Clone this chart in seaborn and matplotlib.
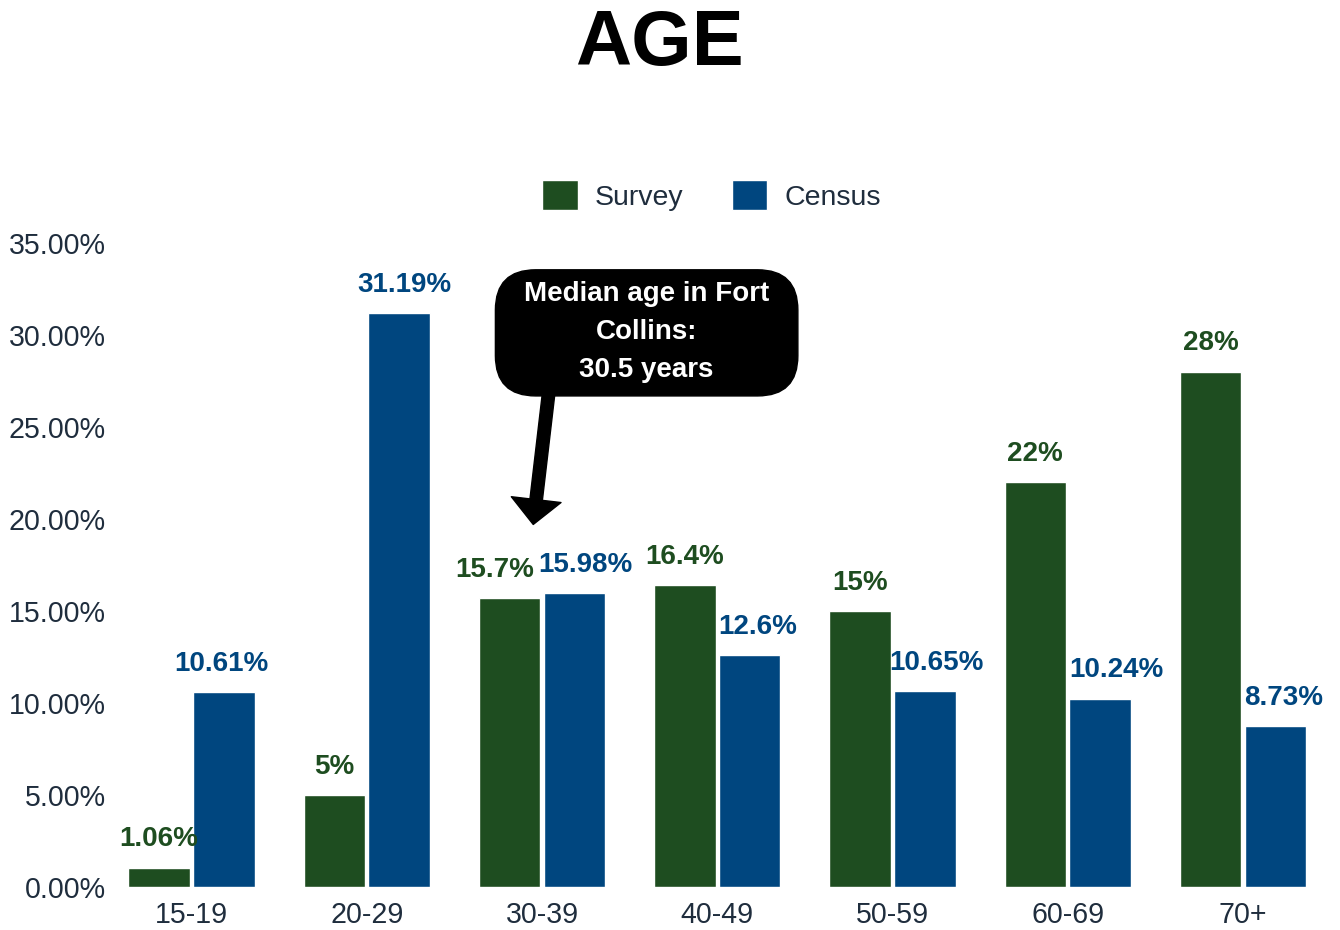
import matplotlib
matplotlib.use("Agg")
import matplotlib.pyplot as plt
import seaborn as sns
import pandas as pd
from matplotlib.ticker import FuncFormatter
from matplotlib.patches import Patch, FancyBboxPatch

categories = ["15-19", "20-29", "30-39", "40-49", "50-59", "60-69", "70+"]
survey = [1.06, 5, 15.7, 16.4, 15, 22, 28]
census = [10.61, 31.19, 15.98, 12.6, 10.65, 10.24, 8.73]
survey_labels = ["1.06%", "5%", "15.7%", "16.4%", "15%", "22%", "28%"]
census_labels = ["10.61%", "31.19%", "15.98%", "12.6%", "10.65%", "10.24%", "8.73%"]
series = ["Survey", "Census"]

GREEN = "#1e4d20"
BLUE = "#00467f"
TXT = "#1f2d3d"

sns.set_theme(style="white")
plt.rcParams['font.family'] = ['Liberation Sans', 'DejaVu Sans']

df = pd.DataFrame({
    "Age": categories * 2,
    "Value": survey + census,
    "Series": ["Survey"] * len(categories) + ["Census"] * len(categories),
})

fig = plt.figure(figsize=(13.4, 9.3), dpi=100)
ax = fig.add_axes([0.088, 0.046, 0.905, 0.693])

sns.barplot(data=df, x="Age", y="Value", hue="Series", hue_order=series,
            palette=[GREEN, BLUE], width=0.74, gap=0.05, ax=ax,
            legend=False, saturation=1)

ax.set_ylim(0, 35)
ax.set_xlim(-0.42, 6.5)
ax.set_yticks([0, 5, 10, 15, 20, 25, 30, 35])
ax.yaxis.set_major_formatter(FuncFormatter(lambda v, p: f"{v:.2f}%"))
ax.tick_params(axis='both', labelsize=20.6, colors=TXT, length=0)
ax.tick_params(axis='x', pad=10)
ax.tick_params(axis='y', pad=8.5)
ax.set_xlabel("")
ax.set_ylabel("")
for s in ax.spines.values():
    s.set_visible(False)

# bar labels
conts = ax.containers
t1 = ax.bar_label(conts[0], labels=survey_labels, padding=11, fontsize=20,
                  fontweight='bold', color=GREEN)
t2 = ax.bar_label(conts[1], labels=census_labels, padding=11, fontsize=20,
                  fontweight='bold', color=BLUE)
# nudge labels horizontally as in the reference
t1[2].xyann = (-11, 11)
for t, dx in zip(t2, [-2, 3.5, 8, 6, 8, 11.5, 6]):
    t.xyann = (dx, 11)

# title
fig.text(0.492, 0.952, "AGE", ha='center', va='center', fontsize=56,
         fontweight='bold', color='black')

# legend
handles = [Patch(facecolor=GREEN, label="Survey"), Patch(facecolor=BLUE, label="Census")]
fig.legend(handles=handles, loc='center', bbox_to_anchor=(0.531, 0.79), ncol=2,
           frameon=False, fontsize=20.5, handlelength=1.25, handleheight=1.25,
           handletextpad=0.6, columnspacing=1.7, labelcolor=TXT)

# annotation
box = FancyBboxPatch((1.734, 26.68), 3.46 - 1.734, 33.53 - 26.68,
                     boxstyle="round,pad=0,rounding_size=0.23",
                     mutation_aspect=175 / 18.4,
                     facecolor='black', edgecolor='black', transform=ax.transData,
                     clip_on=False, zorder=4)
ax.add_patch(box)
ax.annotate("", xy=(1.95, 19.7), xytext=(2.04, 27.0),
            arrowprops=dict(facecolor='black', edgecolor='black', width=9,
                            headwidth=36, headlength=18, shrink=0), zorder=3)
ax.text(2.597, 30.15, "Median age in Fort\nCollins:\n30.5 years", ha='center', va='center',
        fontsize=20, fontweight='bold', color='white', linespacing=1.6, zorder=5)

fig.savefig("out.png", dpi=100)
